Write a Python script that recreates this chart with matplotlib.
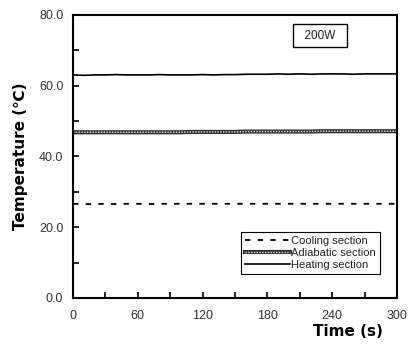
import numpy as np
import matplotlib.pyplot as plt
from matplotlib.ticker import MultipleLocator

# time axis (s)
time = [0, 10, 20, 30, 40, 50, 60, 70, 80, 90, 100, 110, 120, 130, 140, 150,
        160, 170, 180, 190, 200, 210, 220, 230, 240, 250, 260, 270, 280, 290, 300]

heating = [63.0, 62.9, 63.0, 63.0, 63.1, 63.0, 63.0, 63.0, 63.1, 63.0, 63.0, 63.0,
           63.1, 63.0, 63.1, 63.1, 63.2, 63.2, 63.2, 63.3, 63.2, 63.3, 63.2, 63.3,
           63.3, 63.3, 63.2, 63.3, 63.3, 63.3, 63.3]
adiabatic = [46.8, 46.8, 46.8, 46.8, 46.8, 46.8, 46.8, 46.8, 46.8, 46.8, 46.8, 46.9,
             46.9, 46.9, 46.9, 46.9, 47.0, 47.0, 47.0, 47.0, 47.0, 47.0, 47.0, 47.1,
             47.1, 47.1, 47.1, 47.1, 47.1, 47.1, 47.1]
cooling = [26.6, 26.5, 26.5, 26.6, 26.5, 26.6, 26.6, 26.5, 26.6, 26.6, 26.6, 26.6,
           26.6, 26.6, 26.6, 26.6, 26.6, 26.6, 26.6, 26.6, 26.6, 26.6, 26.6, 26.6,
           26.6, 26.6, 26.6, 26.6, 26.6, 26.6, 26.6]

xticks = [0, 60, 120, 180, 240, 300]
yticks = [0, 20, 40, 60, 80]

fig = plt.figure(figsize=(4.08, 3.44), dpi=100)
ax = fig.add_axes([0.179, 0.134, 0.794, 0.823])

l_cool, = ax.plot(time, cooling, color='black', lw=1.3, ls=(0, (3, 4)))
# adiabatic: hatched double line
l_ad1, = ax.plot(time, adiabatic, color='#333333', lw=3.0)
l_ad2, = ax.plot(time, adiabatic, color='#dddddd', lw=1.0, ls=(0, (1, 1)))
l_heat, = ax.plot(time, heating, color='black', lw=1.2)

ax.set_xlim(0, 300)
ax.set_ylim(0, 80)
ax.set_xticks(xticks)
ax.set_yticks(yticks)
ax.set_yticklabels([f"{v:.1f}" for v in yticks])
ax.xaxis.set_minor_locator(MultipleLocator(30))
ax.yaxis.set_minor_locator(MultipleLocator(10))
ax.tick_params(which='both', direction='in', length=4, width=1.2, color='black',
               labelsize=9, labelcolor='#333333')
ax.tick_params(axis='x', pad=9)
ax.tick_params(axis='y', pad=7)
for lab in ax.get_xticklabels() + ax.get_yticklabels():
    lab.set_family('Liberation Sans')
for sp in ax.spines.values():
    sp.set_linewidth(1.5)

lab_font = dict(family='DejaVu Sans', weight='bold', size=11)
fig.text(0.852, 0.037, 'Time (s)', ha='center', va='center', **lab_font)
fig.text(0.05, 0.545, 'Temperature (℃)', rotation=90, ha='center', va='center', **lab_font)

ax.text(0.762, 0.926, '  200W  ', transform=ax.transAxes, ha='center', va='center',
        fontsize=8.5, family='Liberation Sans', color='#222222',
        bbox=dict(boxstyle='square,pad=0.45', fc='white', ec='black', lw=1.0))

leg = ax.legend([l_cool, (l_ad1, l_ad2), l_heat],
                ['Cooling section', 'Adiabatic section', 'Heating section'],
                loc='lower right', bbox_to_anchor=(0.948, 0.085),
                prop={'family': 'Liberation Sans', 'size': 8},
                frameon=True, fancybox=False, edgecolor='black', framealpha=1,
                handlelength=4.0, handletextpad=0.15, borderpad=0.35,
                labelspacing=0.2, borderaxespad=0)
leg.get_frame().set_linewidth(0.8)
for t in leg.get_texts():
    t.set_color('#222222')

fig.savefig('out.png', dpi=100)
